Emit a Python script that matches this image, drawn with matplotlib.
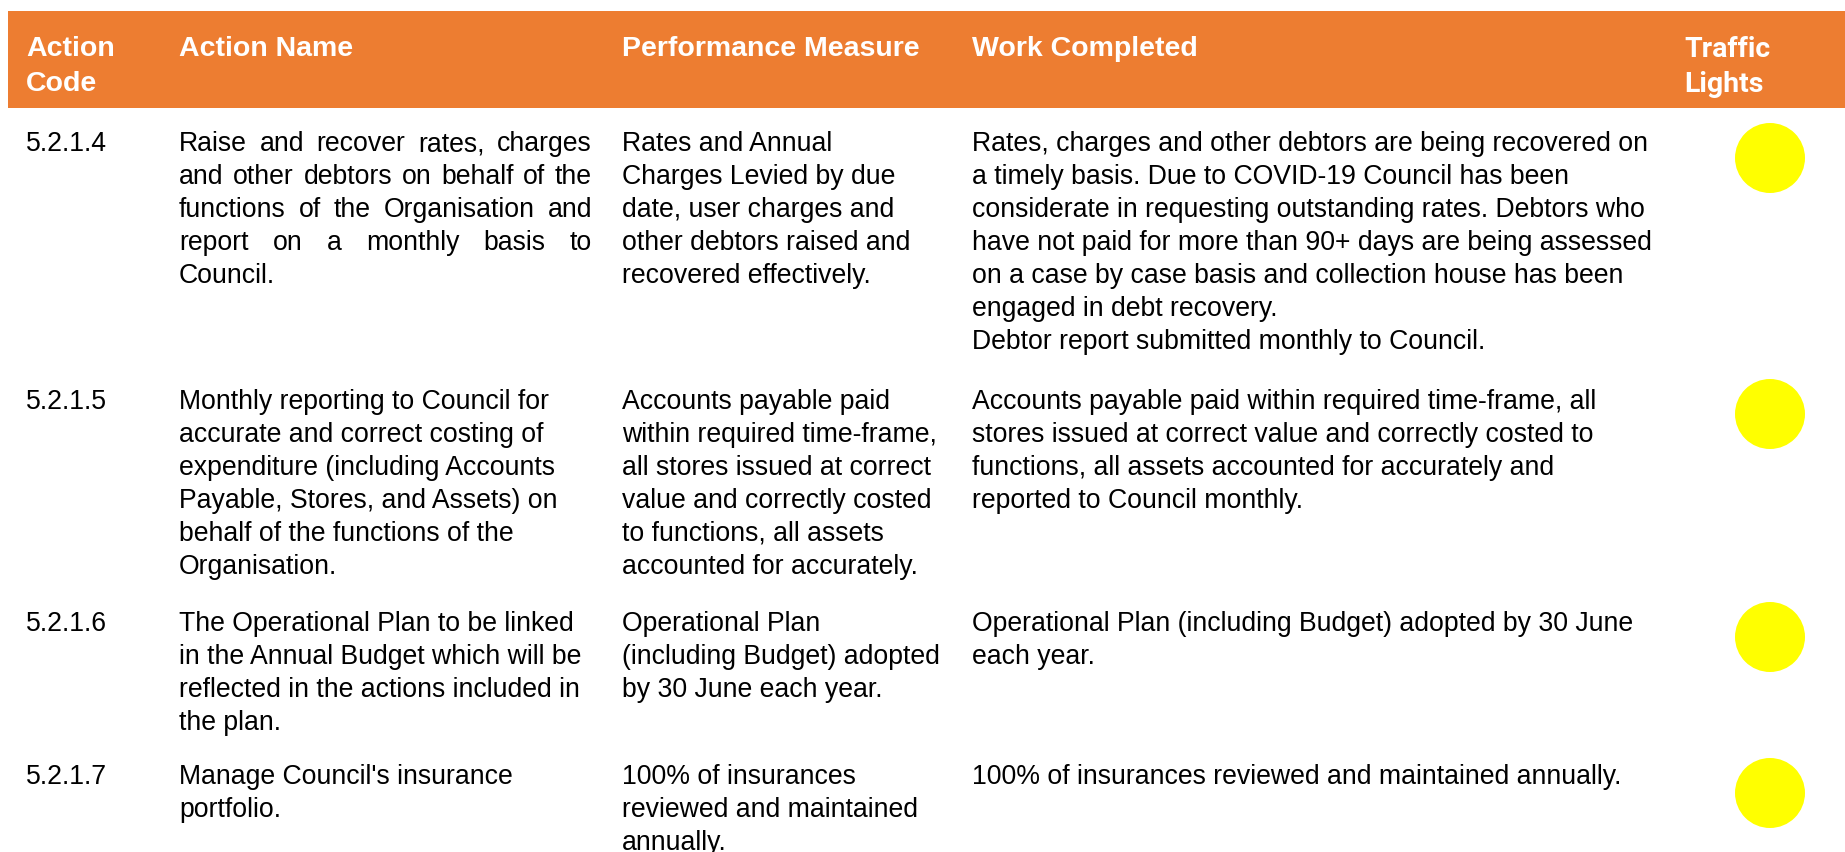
import matplotlib.pyplot as plt
from matplotlib.patches import Rectangle, Circle

# table content
headers = ["Action\nCode", "Action Name", "Performance Measure", "Work Completed", "Traffic\nLights"]
codes = ["5.2.1.4", "5.2.1.5", "5.2.1.6", "5.2.1.7"]
names = [
    "Raise and recover rates, charges\nand other debtors on behalf of the\nfunctions of the Organisation and\nreport on a monthly basis to\nCouncil.",
    "Monthly reporting to Council for\naccurate and correct costing of\nexpenditure (including Accounts\nPayable, Stores, and Assets) on\nbehalf of the functions of the\nOrganisation.",
    "The Operational Plan to be linked\nin the Annual Budget which will be\nreflected in the actions included in\nthe plan.",
    "Manage Council's insurance\nportfolio.",
]
justified = [True, False, False, False]
measures = [
    "Rates and Annual\nCharges Levied by due\ndate, user charges and\nother debtors raised and\nrecovered effectively.",
    "Accounts payable paid\nwithin required time-frame,\nall stores issued at correct\nvalue and correctly costed\nto functions, all assets\naccounted for accurately.",
    "Operational Plan\n(including Budget) adopted\nby 30 June each year.",
    "100% of insurances\nreviewed and maintained\nannually.",
]
work = [
    "Rates, charges and other debtors are being recovered on\na timely basis. Due to COVID-19 Council has been\nconsiderate in requesting outstanding rates. Debtors who\nhave not paid for more than 90+ days are being assessed\non a case by case basis and collection house has been\nengaged in debt recovery.\nDebtor report submitted monthly to Council.",
    "Accounts payable paid within required time-frame, all\nstores issued at correct value and correctly costed to\nfunctions, all assets accounted for accurately and\nreported to Council monthly.",
    "Operational Plan (including Budget) adopted by 30 June\neach year.",
    "100% of insurances reviewed and maintained annually.",
]
lights = ["#FFFF00", "#FFFF00", "#FFFF00", "#FFFF00"]

W, H = 1845, 853
ORANGE = "#ED7D31"
col_x = [26, 179, 622, 972, 1684]
row_y = [144, 402, 624, 777]
light_y = [159, 415, 638, 794]
light_x = 1770
line_h = 33
fs = 19.2
name_right = 592

fig = plt.figure(figsize=(W / 100, H / 100), dpi=100)
ax = fig.add_axes([0, 0, 1, 1])
ax.set_xlim(0, W)
ax.set_ylim(H, 0)
ax.axis("off")
plt.rcParams['font.family'] = ['Liberation Sans', 'DejaVu Sans']

ax.add_patch(Rectangle((8, 12), W - 8, 97, color=ORANGE, lw=0))
for i, h in enumerate(headers):
    fam = ['Roboto', 'DejaVu Sans'] if i == 4 else ['Liberation Sans', 'DejaVu Sans']
    for j, ln in enumerate(h.split("\n")):
        ax.text(col_x[i], 49 + j * 35, ln, color="white", fontsize=20.5, fontweight="bold",
                family=fam, va="center", ha="left")

renderer = fig.canvas.get_renderer()


def draw_block(x, y, txt, just=False, right=None):
    lines = txt.split("\n")
    for j, ln in enumerate(lines):
        yy = y + j * line_h
        if just and j < len(lines) - 1:
            # spread the words over the column width (justified paragraph)
            words = ln.split(" ")
            objs = [ax.text(0, yy, w, fontsize=fs, va="center", ha="left") for w in words]
            widths = []
            for o in objs:
                bb = o.get_window_extent(renderer)
                widths.append(bb.width)
            gap = (right - x - sum(widths)) / (len(words) - 1)
            cx = x
            for o, w in zip(objs, widths):
                o.set_x(cx)
                cx += w + gap
        else:
            ax.text(x, yy, ln, fontsize=fs, va="center", ha="left")


for r in range(len(codes)):
    draw_block(col_x[0], row_y[r], codes[r])
    draw_block(col_x[1], row_y[r], names[r], justified[r], name_right)
    draw_block(col_x[2], row_y[r], measures[r])
    draw_block(col_x[3], row_y[r], work[r])
    ax.add_patch(Circle((light_x, light_y[r]), 35, color=lights[r], lw=0))

fig.savefig("out.png", dpi=100)
